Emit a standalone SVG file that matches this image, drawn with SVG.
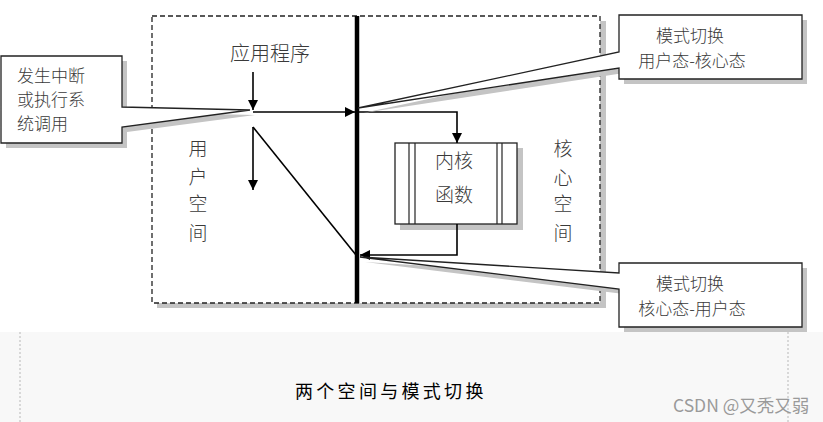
<svg xmlns="http://www.w3.org/2000/svg" width="823" height="422" viewBox="0 0 823 422">
<style>
  .t { font-family: "Noto Sans CJK SC", "Liberation Sans", sans-serif; fill: #3a3a3a; font-weight: 300; }
  .ln { stroke: #000; stroke-width: 1.6; fill: none; }
  .shadow { fill: #c4c4c4; stroke: none; }
  .box { fill: #fff; stroke: #222; stroke-width: 1.3; }
</style>
<defs>
  <marker id="ah" markerWidth="10" markerHeight="10" refX="10" refY="5" orient="auto" markerUnits="userSpaceOnUse">
    <path d="M0,0 L10,5 L0,10 Z" fill="#000"/>
  </marker>
</defs>
<rect x="0" y="0" width="823" height="422" fill="#fff"/>
<rect x="0" y="332" width="823" height="90" fill="#f8f8f8"/>
<line x1="20" y1="332" x2="20" y2="422" stroke="#b8b8b8" stroke-width="1" stroke-dasharray="2,2"/>
<line x1="788" y1="332" x2="788" y2="422" stroke="#b8b8b8" stroke-width="1" stroke-dasharray="2,2"/>

<g id="space-box">
  <rect x="157" y="21" width="449" height="287" class="shadow"/>
  <rect x="152" y="16" width="448" height="287" fill="#fff" stroke="#222" stroke-width="1.3" stroke-dasharray="5,3"/>
  <line x1="357" y1="16" x2="357" y2="303" stroke="#000" stroke-width="4.5"/>
</g>

<g id="user-space-label">
  <text class="t" font-size="19" text-anchor="middle" x="198" y="156">用</text>
  <text class="t" font-size="19" text-anchor="middle" x="198" y="184">户</text>
  <text class="t" font-size="19" text-anchor="middle" x="198" y="211">空</text>
  <text class="t" font-size="19" text-anchor="middle" x="198" y="240">间</text>
</g>
<g id="kernel-space-label">
  <text class="t" font-size="19" text-anchor="middle" x="563" y="156">核</text>
  <text class="t" font-size="19" text-anchor="middle" x="563" y="185">心</text>
  <text class="t" font-size="19" text-anchor="middle" x="563" y="211">空</text>
  <text class="t" font-size="19" text-anchor="middle" x="563" y="240">间</text>
</g>

<g id="app-label">
  <text class="t" font-size="20" text-anchor="middle" x="270" y="61">应用程序</text>
</g>

<g id="kernel-func">
  <rect x="400" y="148" width="123" height="82" class="shadow"/>
  <rect x="395" y="143" width="122" height="81" class="box"/>
  <line x1="409" y1="143" x2="409" y2="224" stroke="#222" stroke-width="1.2"/>
  <line x1="415" y1="143" x2="415" y2="224" stroke="#222" stroke-width="1.2"/>
  <line x1="497" y1="143" x2="497" y2="224" stroke="#222" stroke-width="1.2"/>
  <line x1="502" y1="143" x2="502" y2="224" stroke="#222" stroke-width="1.2"/>
  <text class="t" font-size="19" text-anchor="middle" x="454" y="168">内核</text>
  <text class="t" font-size="19" text-anchor="middle" x="454" y="202">函数</text>
</g>

<g id="connectors">
  <line x1="253" y1="72" x2="253" y2="110" class="ln" marker-end="url(#ah)"/>
  <line x1="253" y1="112" x2="355" y2="112" class="ln" marker-end="url(#ah)"/>
  <line x1="253" y1="127" x2="253" y2="190" class="ln" marker-end="url(#ah)"/>
  <line x1="253" y1="127" x2="356" y2="255" class="ln"/>
  <polyline points="359,112 457,112 457,143" class="ln" marker-end="url(#ah)"/>
  <polyline points="457,224 457,255 360,255" class="ln" marker-end="url(#ah)"/>
</g>

<g id="callout-interrupt">
  <polygon points="6,61 127,61 127,112 255,115 127,132 127,148 6,148" class="shadow"/>
  <polygon points="1,56 122,56 122,107 250,110 122,127 122,143 1,143" class="box"/>
  <text class="t" font-size="17" x="17" y="82">发生中断</text>
  <text class="t" font-size="17" x="17" y="106">或执行系</text>
  <text class="t" font-size="17" x="17" y="130">统调用</text>
</g>

<g id="callout-user-to-kernel">
  <polygon points="624,20 807,20 807,84 624,84 624,73 363,113 624,57" class="shadow"/>
  <polygon points="619,15 802,15 802,79 619,79 619,68 358,108 619,52" class="box"/>
  <text class="t" font-size="17" text-anchor="middle" x="690" y="42">模式切换</text>
  <text class="t" font-size="17" text-anchor="middle" x="692" y="67">用户态-核心态</text>
</g>

<g id="callout-kernel-to-user">
  <polygon points="624,268 807,268 807,332 624,332 624,294 365,262 624,278" class="shadow"/>
  <polygon points="619,263 802,263 802,327 619,327 619,289 360,257 619,273" class="box"/>
  <text class="t" font-size="17" text-anchor="middle" x="690" y="290">模式切换</text>
  <text class="t" font-size="17" text-anchor="middle" x="692" y="315">核心态-用户态</text>
</g>

<g id="caption">
  <text font-family="Noto Sans CJK SC, sans-serif" font-size="18" font-weight="400" fill="#000" x="295" y="398" letter-spacing="3.3">两个空间与模式切换</text>
</g>
<g id="watermark">
  <text font-family="Noto Sans CJK SC, Liberation Sans, sans-serif" font-size="17.5" fill="#9a9a9a" x="673" y="412">CSDN @又秃又弱</text>
</g>
</svg>
